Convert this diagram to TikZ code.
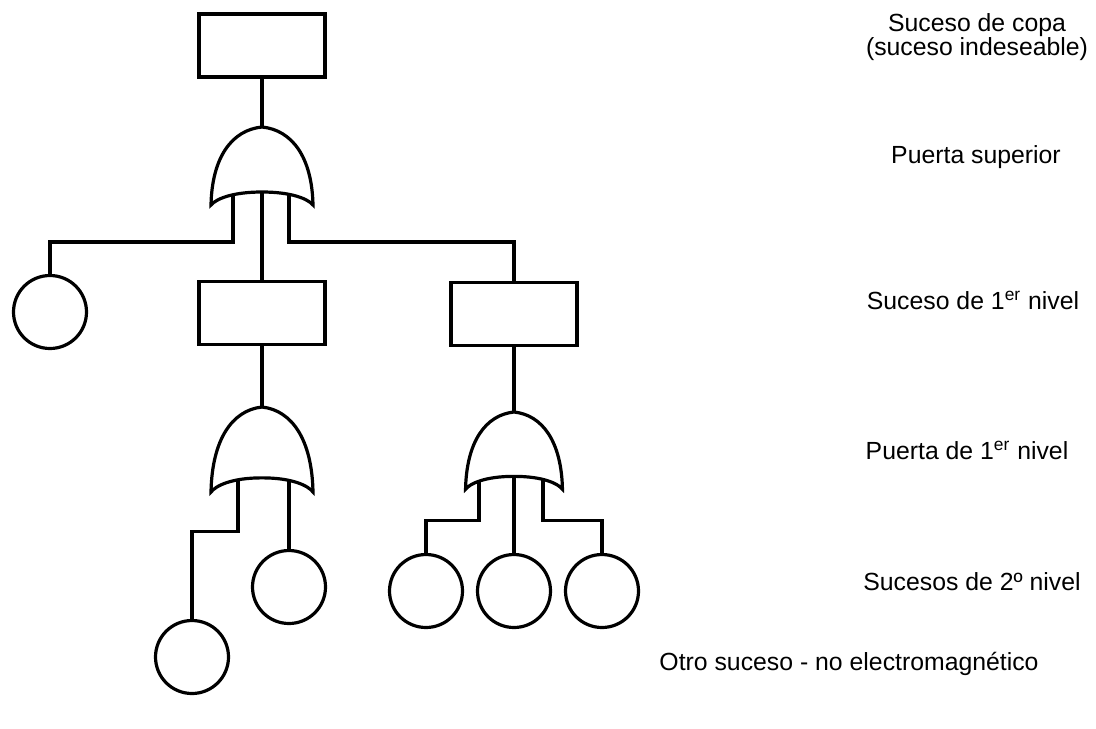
\documentclass[tikz,border=0pt]{standalone}
\usepackage{fontspec}
\setmainfont{Liberation Sans}
\usetikzlibrary{calc,backgrounds}

\tikzset{
  wire/.style={line width=1.6pt},
  eventbox/.style={draw, line width=1.6pt, rectangle, minimum width=63pt, minimum height=31.5pt, inner sep=0pt},
  basicev/.style={draw, line width=1.6pt, circle, minimum size=36.5pt, inner sep=0pt},
  gateshape/.style={draw, fill=white, line width=1.6pt},
  caption/.style={anchor=base, inner sep=0pt, font=\fontsize{12.4}{14}\selectfont},
  % OR gate: pointed arch with a concave base; (-top) is the output, (-base) the middle of the base
  orgate/.pic={
    \path[gateshape] (0,0) .. controls (-30,3) and (-50,30) .. (-51,78)
      .. controls (-46,72) and (-30,65) .. (0,65)
      .. controls (30,65) and (46,72) .. (51,78)
      .. controls (50,30) and (30,3) .. (0,0) -- cycle;
    \coordinate (-top) at (0,0);
    \coordinate (-base) at (0,65);
  }
}

\begin{document}
\begin{tikzpicture}[x=0.5pt, y=-0.5pt]
\useasboundingbox (0,0) rectangle (1096,728);

% events and gates
\node[eventbox] (top) at (262,45.5) {};
\pic (g1) at (262,127) {orgate};

\node[basicev] (e0) at (50,312) {};
\node[eventbox] (b1) at (262,313) {};
\node[eventbox] (b2) at (514,314) {};

\pic[yscale=1.09] (g2) at (262,407) {orgate};
\pic[xscale=0.95, yscale=0.99] (g3) at (514,412) {orgate};

\node[basicev] (e1) at (192,657) {};
\node[basicev] (e2) at (289,587) {};
\node[basicev] (e3) at (426,591) {};
\node[basicev] (e4) at (514,591) {};
\node[basicev] (e5) at (602,591) {};

% connectors, kept behind the gate bodies
\begin{scope}[on background layer]
  \draw[wire] (top.south) -- (g1-top);
  \draw[wire] ($(g1-base)+(-29,0)$) -- ++(0,50) -| (e0);
  \draw[wire] (g1-base) -- (b1.north);
  \draw[wire] ($(g1-base)+(27,0)$) -- ++(0,50) -| (b2);

  \draw[wire] (b1.south) -- (g2-top);
  \draw[wire] ($(g2-base)+(-24,0)$) -- ++(0,54) -| (e1);
  \draw[wire] ($(g2-base)+(27,0)$) -- (e2.north);

  \draw[wire] (b2.south) -- (g3-top);
  \draw[wire] ($(g3-base)+(-35,0)$) -- ++(0,44) -| (e3);
  \draw[wire] (g3-base) -- (e4.north);
  \draw[wire] ($(g3-base)+(29,0)$) -- ++(0,44) -| (e5);
\end{scope}

% level captions
\node[caption] (l1a) at (977,32) {Suceso de copa};
\node[caption] (l1b) at (977,55) {(suceso indeseable)};
\node[caption] (l2) at (976,163) {Puerta superior};
\node[caption] (l3) at (973,309) {Suceso de 1\textsuperscript{er} nivel};
\node[caption] (l4) at (967,459) {Puerta de 1\textsuperscript{er} nivel};
\node[caption] (l5) at (972,590) {Sucesos de 2º nivel};
\node[caption] (l6) at (849,670) {Otro suceso - no electromagnético};
\end{tikzpicture}
\end{document}
